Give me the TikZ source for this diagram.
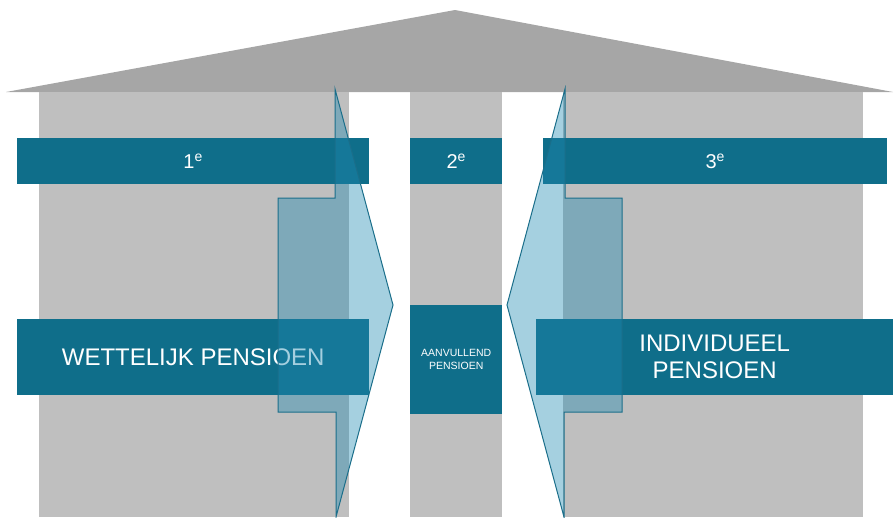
\documentclass[tikz,border=0pt]{standalone}
\usepackage{fontspec}
\setmainfont{Liberation Sans}
\definecolor{roofgray}{HTML}{A6A6A6}
\definecolor{pillargray}{HTML}{BFBFBF}
\definecolor{barteal}{HTML}{0F6E8A}
\definecolor{arrowfill}{RGB}{30,137,177}
\definecolor{arrowedge}{HTML}{1A6E8A}
\begin{document}
\begin{tikzpicture}[x=1pt,y=-1pt,
  pillar/.style={fill=pillargray, draw=none},
  bar/.style={fill=barteal, draw=none, text=white, inner sep=0pt,
    anchor=north west, align=center},
  flow/.style={fill=arrowfill, fill opacity=0.4, draw=arrowedge,
    draw opacity=1, line width=1pt, line join=miter}]
\useasboundingbox (0,0) rectangle (896,517);

% roof
\fill[roofgray] (6,92) -- (455,10) -- (893,92) -- cycle;

% pillars
\fill[pillar] (39,92) rectangle (349,517);
\fill[pillar] (410,92) rectangle (502,517);
\fill[pillar] (563,92) rectangle (863,517);

% tier headers
\node[bar, minimum width=352pt, minimum height=46pt,
  font=\fontsize{20}{24}\selectfont] (tier1) at (17,138) {1\textsuperscript{e}};
\node[bar, minimum width=92pt, minimum height=46pt,
  font=\fontsize{20}{24}\selectfont] (tier2) at (410,138) {2\textsuperscript{e}};
\node[bar, minimum width=344pt, minimum height=46pt,
  font=\fontsize{20}{24}\selectfont] (tier3) at (543,138) {3\textsuperscript{e}};

% pension labels
\node[bar, minimum width=352pt, minimum height=76pt,
  font=\fontsize{24}{27}\selectfont] (wettelijk) at (17,319) {WETTELIJK PENSIOEN};
\node[bar, minimum width=92pt, minimum height=109pt,
  font=\fontsize{10.5}{13}\selectfont] (aanvullend) at (410,305) {AANVULLEND\\PENSIOEN};
\node[bar, minimum width=357pt, minimum height=76pt,
  font=\fontsize{24}{27}\selectfont] (individueel) at (536,319) {INDIVIDUEEL\\PENSIOEN};

% translucent arrows towards the middle pillar
\path[flow] (335,89) -- (335,198) -- (278,198) -- (278,412) -- (336,412)
  -- (336,517) -- (393,305) -- cycle;
\path[flow] (565,89) -- (565,198) -- (622,198) -- (622,412) -- (564,412)
  -- (564,517) -- (507,305) -- cycle;
\end{tikzpicture}
\end{document}
